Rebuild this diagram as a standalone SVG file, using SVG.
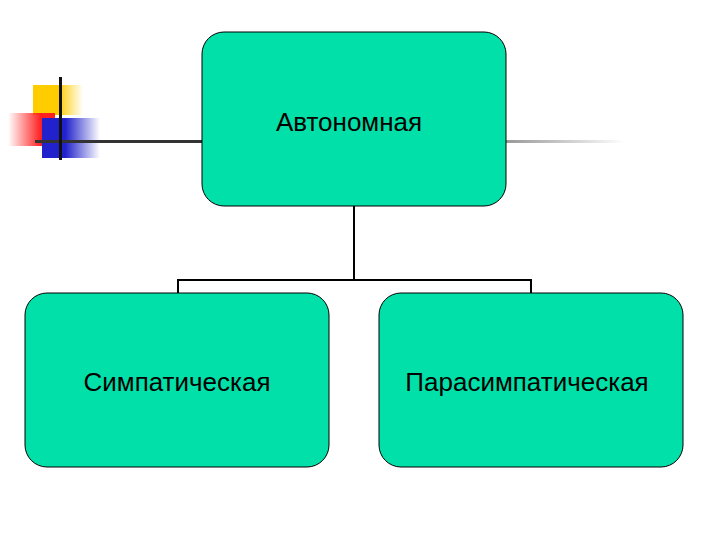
<svg xmlns="http://www.w3.org/2000/svg" width="720" height="540" viewBox="0 0 720 540">
<defs>
<linearGradient id="gy" x1="0" x2="1"><stop offset="0.5" stop-color="#ffcc00"/><stop offset="1" stop-color="#ffcc00" stop-opacity="0"/></linearGradient>
<linearGradient id="gr" x1="1" x2="0"><stop offset="0.3" stop-color="#ff2020"/><stop offset="1" stop-color="#ff2020" stop-opacity="0"/></linearGradient>
<linearGradient id="gb" x1="0" x2="1"><stop offset="0.4" stop-color="#2222cc"/><stop offset="1" stop-color="#2222cc" stop-opacity="0"/></linearGradient>
<linearGradient id="gl" x1="0" x2="1"><stop offset="0.6" stop-color="#333"/><stop offset="1" stop-color="#333" stop-opacity="0"/></linearGradient>
<style>.n{fill:#00e0a8;stroke:#000;stroke-width:1}.t{font-family:"Liberation Sans",Arial,sans-serif;font-size:26px;text-anchor:middle;fill:#000}.c{stroke:#000;stroke-width:2;fill:none}</style>
</defs>
<g id="decor">
<rect x="33" y="85" width="50" height="30" fill="url(#gy)"/>
<rect x="8" y="113" width="47" height="33" fill="url(#gr)"/>
<rect x="42" y="118" width="58" height="40" fill="url(#gb)"/>
<rect x="35" y="140" width="590" height="3" fill="url(#gl)"/>
<rect x="59" y="77" width="3" height="83" fill="#111"/>
</g>
<g id="connectors">
<path class="c" d="M354 206V280M178 293V280H531V293"/>
</g>
<g id="n1"><rect class="n" x="202" y="32" width="304" height="174" rx="22"/><text class="t" x="349" y="131">Автономная</text></g>
<g id="n2"><rect class="n" x="25" y="293" width="304" height="174" rx="22"/><text class="t" x="177" y="391">Симпатическая</text></g>
<g id="n3"><rect class="n" x="379" y="293" width="304" height="174" rx="22"/><text class="t" x="527" y="391">Парасимпатическая</text></g>
</svg>
